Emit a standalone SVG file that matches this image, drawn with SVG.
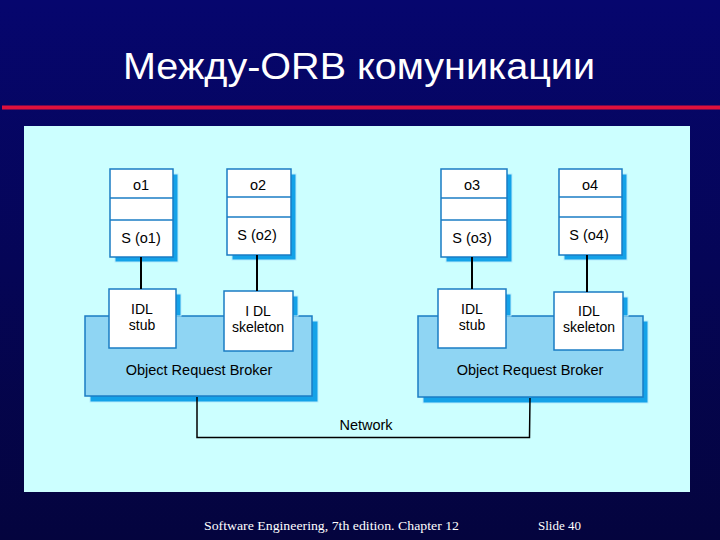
<svg xmlns="http://www.w3.org/2000/svg" width="720" height="540" viewBox="0 0 720 540">
<defs>
<linearGradient id="bg" x1="0" y1="0" x2="0" y2="1">
<stop offset="0" stop-color="#06066e"/>
<stop offset="1" stop-color="#04043e"/>
</linearGradient>
</defs>
<style>
.shadow{fill:#14a2e8;stroke:#b8ecfb;stroke-width:1}
.box{fill:#ffffff;stroke:#1a7cc4;stroke-width:1.5}
.orb{fill:#8fd5f3;stroke:#1a7cc4;stroke-width:1.5}
.div{stroke:#1a7cc4;stroke-width:1.5}
.lbl{font-family:"Liberation Sans",Arial,sans-serif;font-size:14.5px;fill:#000000;text-anchor:middle}
.sm{font-size:14px}
.conn{stroke:#000000;stroke-width:2;fill:none}
.net{stroke:#000000;stroke-width:1.5;fill:none}
</style>
<rect x="0" y="0" width="720" height="540" fill="url(#bg)"/>
<text x="359" y="79" textLength="472" lengthAdjust="spacingAndGlyphs" style="font-family:'Liberation Sans',Arial,sans-serif;font-size:36px;fill:#ffffff;text-anchor:middle">Между-ORB комуникации</text>
<rect x="2" y="105.5" width="718" height="4" fill="#e0103c"/>
<rect x="24" y="126" width="666" height="366" fill="#ccffff"/>

<g id="orb1">
<rect class="shadow" x="90" y="321" width="228" height="81"/>
<rect class="orb" x="85" y="316" width="227" height="80"/>
<text class="lbl" x="199" y="375">Object Request Broker</text>
</g>
<g id="orb2">
<rect class="shadow" x="423" y="321" width="225" height="82"/>
<rect class="orb" x="418" y="316" width="225" height="81"/>
<text class="lbl" x="530" y="375">Object Request Broker</text>
</g>

<g id="stub1">
<rect class="shadow" x="114" y="294" width="67" height="22"/>
<rect class="box" x="109" y="289" width="67" height="59"/>
<text class="lbl sm" x="142" y="314">IDL</text>
<text class="lbl sm" x="142" y="330">stub</text>
</g>
<g id="skel1">
<rect class="shadow" x="229" y="296" width="69" height="20"/>
<rect class="box" x="224" y="291" width="69" height="60"/>
<text class="lbl sm" x="258" y="316">I DL</text>
<text class="lbl sm" x="258" y="332">skeleton</text>
</g>
<g id="stub2">
<rect class="shadow" x="443" y="294" width="68" height="22"/>
<rect class="box" x="438" y="289" width="68" height="59"/>
<text class="lbl sm" x="472" y="314">IDL</text>
<text class="lbl sm" x="472" y="330">stub</text>
</g>
<g id="skel2">
<rect class="shadow" x="559" y="297" width="69" height="19"/>
<rect class="box" x="554" y="292" width="69" height="58"/>
<text class="lbl sm" x="589" y="316">IDL</text>
<text class="lbl sm" x="589" y="332">skeleton</text>
</g>

<g id="o1">
<rect class="shadow" x="115" y="174" width="63" height="88"/>
<rect class="box" x="110" y="169" width="63" height="88"/>
<line class="div" x1="110" y1="198" x2="173" y2="198"/>
<line class="div" x1="110" y1="220" x2="173" y2="220"/>
<text class="lbl" x="141" y="190">o1</text>
<text class="lbl" x="141" y="243">S (o1)</text>
</g>
<g id="o2">
<rect class="shadow" x="232" y="174" width="64" height="86"/>
<rect class="box" x="227" y="169" width="64" height="86"/>
<line class="div" x1="227" y1="197" x2="291" y2="197"/>
<line class="div" x1="227" y1="217" x2="291" y2="217"/>
<text class="lbl" x="258" y="190">o2</text>
<text class="lbl" x="257" y="240">S (o2)</text>
</g>
<g id="o3">
<rect class="shadow" x="446" y="174" width="66" height="88"/>
<rect class="box" x="441" y="169" width="66" height="88"/>
<line class="div" x1="441" y1="198" x2="507" y2="198"/>
<line class="div" x1="441" y1="220" x2="507" y2="220"/>
<text class="lbl" x="472" y="190">o3</text>
<text class="lbl" x="472" y="243">S (o3)</text>
</g>
<g id="o4">
<rect class="shadow" x="564" y="174" width="63" height="86"/>
<rect class="box" x="559" y="169" width="63" height="86"/>
<line class="div" x1="559" y1="197" x2="622" y2="197"/>
<line class="div" x1="559" y1="217" x2="622" y2="217"/>
<text class="lbl" x="590" y="190">o4</text>
<text class="lbl" x="589" y="240">S (o4)</text>
</g>

<g id="connectors">
<line class="conn" x1="141" y1="257" x2="141" y2="289"/>
<line class="conn" x1="257" y1="255" x2="257" y2="291"/>
<line class="conn" x1="472" y1="257" x2="472" y2="289"/>
<line class="conn" x1="587" y1="255" x2="587" y2="292"/>
<polyline class="net" points="197,397 197,437.5 529.5,437.5 530,398"/>
</g>
<text class="lbl" x="366" y="430">Network</text>

<text x="204" y="530" textLength="255" lengthAdjust="spacingAndGlyphs" style="font-family:'Liberation Serif','Times New Roman',serif;font-size:13px;fill:#ffffff">Software Engineering, 7th edition. Chapter 12</text>
<text x="538" y="530" style="font-family:'Liberation Serif','Times New Roman',serif;font-size:13px;fill:#ffffff">Slide  40</text>
</svg>
